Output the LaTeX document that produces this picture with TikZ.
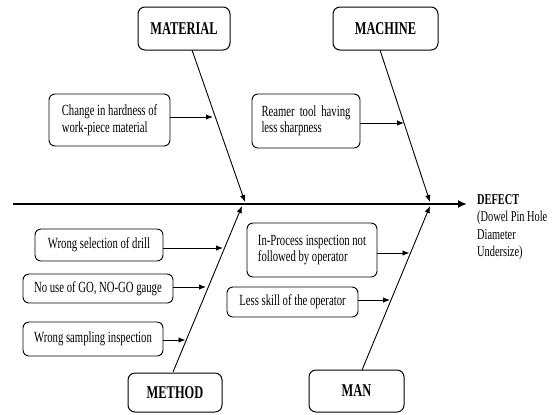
\documentclass[tikz,border=0pt]{standalone}
\usepackage{fontspec}
\setmainfont{Liberation Serif}[FakeStretch=0.69]
\usetikzlibrary{arrows.meta}
\begin{document}
\begin{tikzpicture}[x=1bp,y=-1bp,
  cbox/.style={draw, rounded corners=6bp, line width=0.9bp, inner sep=2bp,
    font=\fontsize{15.5bp}{16.5bp}\selectfont, align=left},
  catbox/.style={draw, rounded corners=7bp, line width=1bp,
    font=\bfseries\fontsize{18bp}{20bp}\selectfont},
  arr/.style={-{Latex[length=7bp,width=5.5bp]}, line width=0.9bp},
  bone/.style={-{Latex[length=7bp,width=5.5bp]}, line width=0.9bp}]
\useasboundingbox (0,0) rectangle (558,414);

% spine
\coordinate (s0) at (13,204);
\coordinate (s1) at (467,204);
\draw[line width=2.5bp, -{Latex[length=9bp,width=8bp]}] (s0) -- (s1);
\node[anchor=north west, inner sep=0pt, align=left,
  font=\fontsize{15bp}{17.5bp}\selectfont] (defect) at (477,194)
  {\textbf{DEFECT}\\(Dowel Pin Hole\\Diameter\\Undersize)};

% category boxes
\node[catbox, minimum width=92bp, minimum height=43bp] (mat) at (184,28.5) {MATERIAL};
\node[catbox, minimum width=105bp, minimum height=43bp] (mac) at (385.5,28.5) {MACHINE};
\node[catbox, minimum width=94bp, minimum height=39bp] (met) at (175,392.5) {METHOD};
\node[catbox, minimum width=95bp, minimum height=42bp] (man) at (356.5,391) {MAN};

% bones
\coordinate (matS) at (192,50);
\coordinate (matE) at (245,202);
\coordinate (macS) at (380,50);
\coordinate (macE) at (430,202);
\coordinate (metS) at (173,372);
\coordinate (metE) at (242,206);
\coordinate (manS) at (362,370);
\coordinate (manE) at (430,206);
\draw[bone] (matS) -- (matE);
\draw[bone] (macS) -- (macE);
\draw[bone] (metS) -- (metE);
\draw[bone] (manS) -- (manE);

% cause boxes
\node[cbox, minimum width=121bp, minimum height=52bp] (c1) at (109.5,120)
  {Change in hardness of\\work-piece material};
\node[cbox, minimum width=108bp, minimum height=54bp] (c2) at (306,121)
  {\makebox[89bp][s]{Reamer tool having}\\less sharpness};
\node[cbox, minimum width=128bp, minimum height=32bp] (c3) at (99,245)
  {Wrong selection of drill};
\node[cbox, minimum width=150bp, minimum height=29bp] (c4) at (98,288.5)
  {No use of GO, NO-GO gauge};
\node[cbox, minimum width=140bp, minimum height=34bp] (c5) at (93,339)
  {Wrong sampling inspection};
\node[cbox, minimum width=130bp, minimum height=54bp] (c6) at (312,250)
  {In-Process inspection not\\followed by operator};
\node[cbox, minimum width=131bp, minimum height=30bp] (c7) at (292.5,302)
  {Less skill of the operator};

% cause arrows
\coordinate (t1) at (213,117);
\coordinate (t2) at (404,123);
\coordinate (t3) at (223,248);
\coordinate (t4) at (206,287);
\coordinate (t5) at (185.5,340);
\coordinate (t6) at (409.5,253);
\coordinate (t7) at (390,300);
\draw[arr] (c1.east |- t1) -- (t1);
\draw[arr] (c2.east |- t2) -- (t2);
\draw[arr] (c3.east |- t3) -- (t3);
\draw[arr] (c4.east |- t4) -- (t4);
\draw[arr] (c5.east |- t5) -- (t5);
\draw[arr] (c6.east |- t6) -- (t6);
\draw[arr] (c7.east |- t7) -- (t7);
\end{tikzpicture}
\end{document}
